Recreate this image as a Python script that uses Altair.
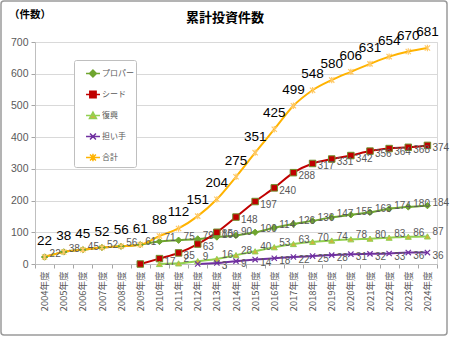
import altair as alt
import pandas as pd

years = [f"{y}年度" for y in range(2004, 2025)]
names = ["プロパー", "シード", "復興", "担い手", "合計"]
proper = [22, 38, 45, 52, 56, 61, 71, 75, 79, 85, 90, 100, 114, 126, 136, 147, 155, 163, 174, 180, 184]
seed = [None] * 5 + [0, 17, 35, 63, 100, 148, 197, 240, 288, 317, 331, 342, 356, 364, 368, 374]
fukko = [None] * 6 + [0, 2, 9, 16, 28, 40, 53, 63, 70, 74, 78, 80, 83, 86, 87]
ninaite = [None] * 8 + [0, 3, 9, 14, 18, 22, 25, 28, 31, 32, 33, 36, 36]
total = [22, 38, 45, 52, 56, 61, 88, 112, 151, 204, 275, 351, 425, 499, 548, 580, 606, 631, 654, 670, 681]
y_ticks = [0, 100, 200, 300, 400, 500, 600, 700]

series_values = [proper, seed, fukko, ninaite, total]
rows = []
for name, vals in zip(names, series_values):
    for yr, v in zip(years, vals):
        if v is not None:
            rows.append({"year": yr, "series": name, "value": v})
df = pd.DataFrame(rows)
legend_df = pd.DataFrame({"series": names})

line_colors = ["#6FA52F", "#C00000", "#92D050", "#7030A0", "#FFB300"]
marker_fill = ["#6FA52F", "#C00000", "#CDB43C", "#7030A0", "#FFC966"]

JP = "Noto Sans CJK JP"
NUM = "Liberation Sans"

x_enc = alt.X("year:N", scale=alt.Scale(domain=years, type="band", paddingInner=0, paddingOuter=0),
              axis=alt.Axis(title=None, labelAngle=270, labelFont=JP, labelFontSize=9.5,
                            labelColor="#595959", tickBand="extent", tickSize=4, tickColor="#a6a6a6",
                            domainColor="#bfbfbf", labelPadding=3, grid=False))
y_enc = alt.Y("value:Q", scale=alt.Scale(domain=[0, 700], nice=False),
              axis=alt.Axis(title=None, values=y_ticks, grid=True, gridColor="#d9d9d9",
                            domainColor="#bfbfbf", tickColor="#a6a6a6", tickSize=4,
                            labelColor="#595959", labelFont=NUM, labelFontSize=10.5, labelPadding=3))

base = alt.Chart(df)

marker_specs = {
    "プロパー": dict(shape="diamond", fill="#6FA52F", stroke="#6FA52F", size=40, strokeWidth=1),
    "シード": dict(shape="square", fill="#C00000", stroke="#6E8E2B", size=42, strokeWidth=1),
    "復興": dict(shape="triangle-up", fill="#CDB43C", stroke="#92D050", size=36, strokeWidth=1),
    "担い手": dict(shape="M-1,-1L1,1M-1,1L1,-1", fill="#7030A0", stroke="#7030A0", size=28, strokeWidth=1.2),
    "合計": dict(shape="M-1,-1L1,1M-1,1L1,-1M0,-1.2L0,1.2", fill="#FFC966", stroke="#FFC966", size=28, strokeWidth=1.2),
}
# label vertical nudge per series (style)
label_dy = {"プロパー": -3, "シード": 3, "復興": -4, "担い手": 3}

line_layers = []
marker_layers = []
label_layers = []
for name, lc in zip(names, line_colors):
    spec = marker_specs[name]
    sub = base.transform_filter(alt.datum.series == name)
    line_layers.append(
        sub.mark_line(strokeWidth=2, interpolate="monotone", color=lc).encode(x=x_enc, y=y_enc)
    )
    marker_layers.append(
        sub.mark_point(
            filled=spec["shape"] in ("diamond", "square", "triangle-up"), opacity=1, **spec
        ).encode(x=x_enc, y=y_enc)
    )
    if name != "合計":
        label_layers.append(
            sub.transform_filter(alt.datum.value > 0).mark_text(
                align="left", baseline="middle", dx=5, dy=label_dy[name], font=NUM,
                fontSize=10, color="#595959"
            ).encode(x=x_enc, y=y_enc, text="value:Q")
        )

# legend symbol paths (line + marker)
def leg_path(marker, c=0.52, h=0.33):
    line = "M-0.14,0L1.19,0"
    if marker == "diamond":
        m = f"M{c-h:.2f},0L{c:.2f},{-h:.2f}L{c+h:.2f},0L{c:.2f},{h:.2f}Z"
    elif marker == "square":
        m = f"M{c-0.3:.2f},-0.3L{c+0.3:.2f},-0.3L{c+0.3:.2f},0.3L{c-0.3:.2f},0.3Z"
    elif marker == "triangle":
        m = f"M{c:.2f},{-h:.2f}L{c+h:.2f},0.28L{c-h:.2f},0.28Z"
    elif marker == "x":
        m = f"M{c-0.28:.2f},-0.28L{c+0.28:.2f},0.28M{c-0.28:.2f},0.28L{c+0.28:.2f},-0.28"
    else:
        m = (f"M{c-0.28:.2f},-0.28L{c+0.28:.2f},0.28M{c-0.28:.2f},0.28L{c+0.28:.2f},-0.28"
             f"M{c:.2f},-0.36L{c:.2f},0.36")
    return line + m

legend_paths = [leg_path("diamond"), leg_path("square"), leg_path("triangle"), leg_path("x"), leg_path("ast")]

def make_legend():
    return alt.Legend(title=None, orient="none", legendX=39, legendY=18, padding=2,
                      fillColor="white", strokeColor="#bfbfbf", cornerRadius=2,
                      symbolSize=441, symbolStrokeWidth=1.5, labelOffset=3, rowPadding=3,
                      labelFont=JP, labelFontSize=8, labelColor="#595959", labelLimit=200)

# legend-only layer: its points sit off the canvas, only the legend shows
legend_layer = alt.Chart(legend_df).mark_point(filled=True, opacity=1).encode(
    x=alt.value(-600), y=alt.value(-600),
    shape=alt.Shape("series:N", scale=alt.Scale(domain=names, range=legend_paths), legend=make_legend()),
    fill=alt.Fill("series:N", scale=alt.Scale(domain=names, range=marker_fill), legend=make_legend()),
    stroke=alt.Stroke("series:N", scale=alt.Scale(domain=names, range=line_colors), legend=make_legend()),
)

total_labels = base.transform_filter(alt.datum.series == "合計").mark_text(
    align="center", baseline="middle", dy=-16, font=NUM, fontSize=13.5, color="#000000"
).encode(x=x_enc, y=y_enc, text="value:Q")

one = alt.Data(values=[{}])
frame = alt.Chart(one).mark_rect(fill="transparent", stroke="#9a9a9a", strokeWidth=1.5, cornerRadius=3).encode(
    x=alt.value(-34), x2=alt.value(412), y=alt.value(-41), y2=alt.value(293)
)
title = alt.Chart(one).mark_text(text="累計投資件数", font=JP, fontSize=13, fontWeight="bold",
                                 color="#000000", align="center", baseline="middle").encode(
    x=alt.value(190), y=alt.value(-24)
)
unit = alt.Chart(one).mark_text(text="（件数）", font=JP, fontSize=10.5, fontWeight="bold",
                                color="#000000", align="center", baseline="middle").encode(
    x=alt.value(-5), y=alt.value(-27)
)

chart = alt.layer(
    frame, *line_layers, *marker_layers, *label_layers, total_labels, legend_layer, title, unit
).properties(
    width=402, height=222,
    autosize=alt.AutoSizeParams(type="none"),
    padding={"left": 35, "top": 42, "right": 13, "bottom": 74},
    background="white",
).configure_view(stroke="#d9d9d9")

chart.save("out.html", embed_options={"renderer": "svg", "actions": False})
